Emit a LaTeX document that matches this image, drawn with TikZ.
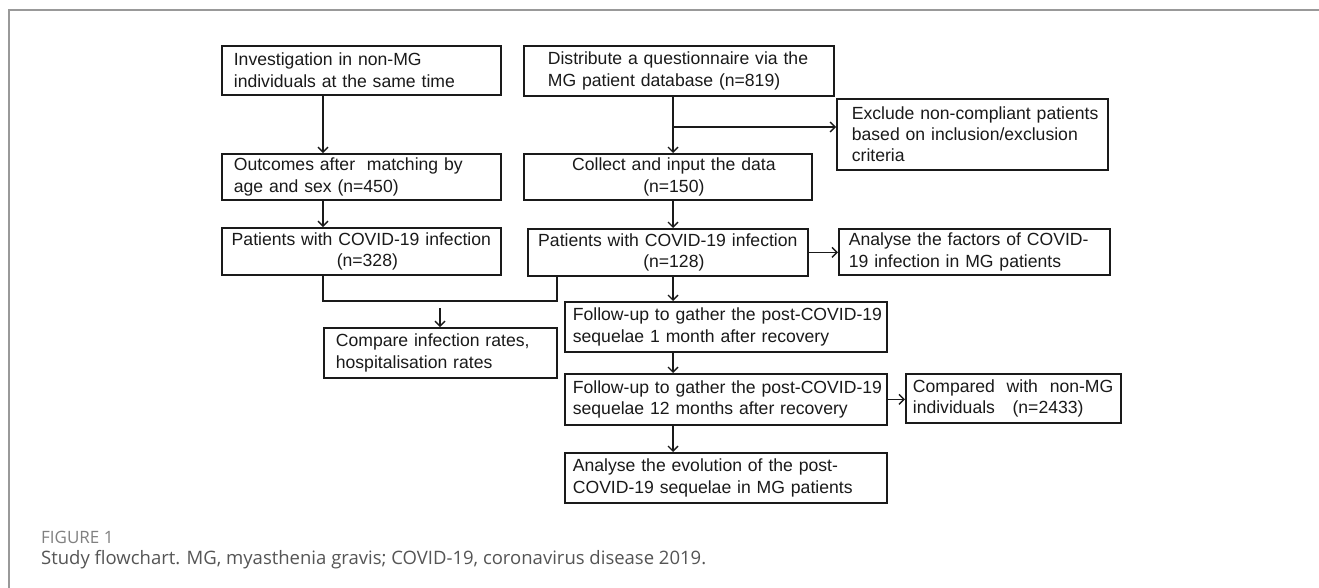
\documentclass[tikz,border=0pt]{standalone}
\usepackage{fontspec}
\setmainfont{Liberation Sans}
\newfontfamily\capfont{Open Sans}
\usetikzlibrary{arrows.meta}
\definecolor{ink}{HTML}{1A1A1A}
\definecolor{framegray}{HTML}{999999}
\definecolor{capgray}{HTML}{555555}
\definecolor{figgray}{HTML}{808080}
\tikzset{
  box/.style={draw=ink, line width=1.7pt, anchor=north west, inner ysep=1pt,
    font=\fontsize{17.6}{21.3}\selectfont, text=ink},
  lbox/.style={box, align=left},
  cbox/.style={box, align=center},
  arr/.style={draw=ink, line width=1.4pt, -{Straight Barb[length=5pt,width=10pt]}},
  ln/.style={draw=ink, line width=1.4pt},
}
\newcommand{\bx}[8]{% name, style, x, y, w, h, pad, text
  \node[#2, inner xsep=#7pt, text width={#5pt-2*#7pt}, minimum height=#6pt] (#1) at (#3,#4) {#8};}
\begin{document}
\begin{tikzpicture}[x=1pt,y=-1pt]
\useasboundingbox (0,0) rectangle (1319,587);
\fill[white] (0,0) rectangle (1319,587);
\draw[framegray, line width=2pt] (9,600) -- (9,10) -- (1330,10);

\bx{A}{lbox}{221}{45}{279}{49}{12}{\mbox{Investigation in non-MG}\\\mbox{individuals at the same time}}
\bx{B}{lbox}{523}{45}{310}{50}{24}{\mbox{Distribute a questionnaire via the}\\\mbox{MG patient database (n=819)}}
\bx{C}{lbox}{836}{98}{271}{71}{15}{\mbox{Exclude non-compliant patients}\\\mbox{based on inclusion/exclusion}\\criteria}
\bx{D}{lbox}{221}{153}{279}{46}{12}{\mbox{Outcomes after~ matching by}\\\mbox{age and sex (n=450)}}
\bx{E}{cbox}{523}{153}{288}{46}{6}{\mbox{\hspace{12pt}Collect and input the data}\\\mbox{\hspace{12pt}(n=150)}}
\bx{F}{cbox}{221}{227}{279}{47}{4}{\mbox{Patients with COVID-19 infection}\\\mbox{\hspace{12pt}(n=328)}}
\bx{G}{cbox}{527}{228}{280}{47}{4}{\mbox{Patients with COVID-19 infection}\\\mbox{\hspace{12pt}(n=128)}}
\bx{H}{lbox}{838}{228}{271}{46}{10}{\mbox{Analyse the factors of COVID-}\\\mbox{19 infection in MG patients}}
\bx{I}{lbox}{323}{327}{233}{50}{12}{\mbox{Compare infection rates,}\\\mbox{hospitalisation rates}}
\bx{J}{lbox}{564}{301}{322}{50}{8}{\mbox{Follow-up to gather the post-COVID-19}\\\mbox{sequelae 1 month after recovery}}
\bx{K}{lbox}{564}{373}{322}{51}{8}{\mbox{Follow-up to gather the post-COVID-19}\\\mbox{sequelae 12 months after recovery}}
\bx{M}{lbox}{905}{373}{215}{49}{7}{\mbox{Compared~ with~ non-MG}\\\mbox{individuals~~ (n=2433)}}
\bx{L}{lbox}{564}{452}{322}{50}{8}{\mbox{Analyse the evolution of the post-}\\\mbox{COVID-19 sequelae in MG patients}}

\coordinate (xl) at (323,0);
\coordinate (xr) at (673,0);
\coordinate (br) at (673,127);
\coordinate (mg) at (557,301);
\coordinate (ia) at (440,308);

\draw[arr] (A.south -| xl) -- (D.north -| xl);
\draw[arr] (D.south -| xl) -- (F.north -| xl);
\draw[ln] (F.south -| xl) -- (xl |- mg) -- (mg) -- (G.south -| mg);
\draw[arr] (ia) -- (I.north -| ia);

\draw[arr] (B.south -| xr) -- (E.north -| xr);
\draw[arr] (br) -- (C.west |- br);
\draw[arr] (E.south -| xr) -- (G.north -| xr);
\draw[arr] (G.east) -- (H.west |- G.east);
\draw[arr] (G.south -| xr) -- (J.north -| xr);
\draw[arr] (J.south -| xr) -- (K.north -| xr);
\draw[arr] (K.east) -- (M.west |- K.east);
\draw[arr] (K.south -| xr) -- (L.north -| xr);

\node[anchor=west, inner sep=0pt, text=figgray, font=\capfont\fontsize{17}{18}\selectfont] (fig) at (41,537) {FIGURE 1};
\node[anchor=west, inner sep=0pt, text=capgray, font=\capfont\fontsize{18.5}{21}\selectfont] (cap) at (41,560) {Study flowchart. MG, myasthenia gravis; COVID-19, coronavirus disease 2019.};
\end{tikzpicture}
\end{document}
